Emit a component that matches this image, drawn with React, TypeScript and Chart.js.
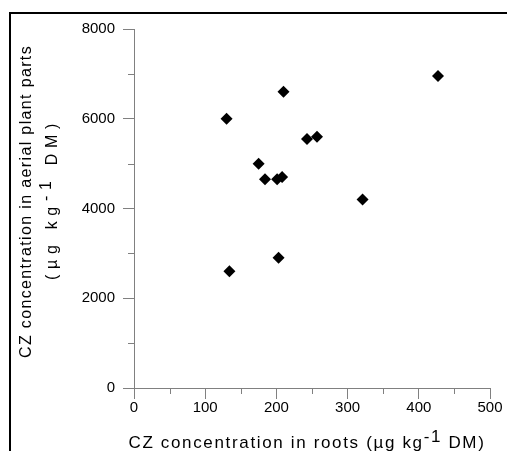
import React, { useEffect, useRef } from "react";
import { Chart, registerables } from "chart.js";

Chart.register(...registerables);

// ---- data ----
const rootsConc = [130, 134, 175, 184, 201, 203, 208, 210, 243, 257, 321, 427];
const aerialConc = [6000, 2600, 5000, 4650, 4650, 2900, 4700, 6600, 5550, 5600, 4200, 6950];

const xMajorTicks = [0, 100, 200, 300, 400, 500];
const xMinorTicks = [50, 150, 250, 350, 450];
const yMajorTicks = [0, 2000, 4000, 6000, 8000];
const yMinorTicks = [1000, 3000, 5000, 7000];

const xTitleRuns = [
  { text: "CZ concentration in roots (µg kg", sup: false },
  { text: "-1", sup: true },
  { text: " DM)", sup: false },
];
const yTitleLine1Runs = [{ text: "CZ concentration in aerial plant parts", sup: false }];
const yTitleLine2Runs = [
  { text: "(µg kg", sup: false },
  { text: "-1", sup: true },
  { text: " DM)", sup: false },
];

const FAMILY = '"Liberation Sans", Arial, Helvetica, sans-serif';
const AXIS_GRAY = "#808080";

function drawRuns(
  ctx: CanvasRenderingContext2D,
  runs: { text: string; sup: boolean }[],
  size: number,
  targetWidth: number,
  supRaise: number
) {
  ctx.font = `${size}px ${FAMILY}`;
  (ctx as any).letterSpacing = "0px";
  let natural = 0;
  let nChars = 0;
  const widths = runs.map((r) => {
    const w = ctx.measureText(r.text).width;
    natural += w;
    nChars += r.text.length;
    return w;
  });
  const sp = Math.max(0, (targetWidth - natural) / nChars);
  let x = -targetWidth / 2;
  ctx.textAlign = "left";
  ctx.textBaseline = "alphabetic";
  runs.forEach((r, i) => {
    (ctx as any).letterSpacing = `${sp}px`;
    ctx.fillText(r.text, x, r.sup ? -supRaise : 0);
    x += widths[i] + sp * r.text.length;
  });
  (ctx as any).letterSpacing = "0px";
}

const decorPlugin = {
  id: "decor",
  beforeDraw(chart: any) {
    const ctx = chart.ctx as CanvasRenderingContext2D;
    ctx.save();
    ctx.fillStyle = "#000";
    ctx.fillRect(9, 12, chart.width - 9, 2);
    ctx.fillRect(9, 12, 2, chart.height - 12);
    ctx.restore();
  },
  afterDraw(chart: any) {
    const ctx = chart.ctx as CanvasRenderingContext2D;
    const xs = chart.scales.x;
    const ys = chart.scales.y;
    ctx.save();
    // minor ticks
    ctx.strokeStyle = AXIS_GRAY;
    ctx.lineWidth = 1;
    ctx.beginPath();
    xMinorTicks.forEach((v) => {
      const px = Math.round(xs.getPixelForValue(v)) + 0.5;
      ctx.moveTo(px, xs.top);
      ctx.lineTo(px, xs.top + 6);
    });
    yMinorTicks.forEach((v) => {
      const py = Math.round(ys.getPixelForValue(v)) + 0.5;
      ctx.moveTo(ys.right, py);
      ctx.lineTo(ys.right - 6, py);
    });
    ctx.stroke();

    // axis titles
    ctx.fillStyle = "#000";
    const area = chart.chartArea;
    ctx.save();
    ctx.translate((area.left + area.right) / 2 - 5, 448);
    drawRuns(ctx, xTitleRuns, 17, 357, 6);
    ctx.restore();

    ctx.save();
    ctx.translate(31, 201.5);
    ctx.rotate(-Math.PI / 2);
    drawRuns(ctx, yTitleLine1Runs, 16, 313, 6);
    ctx.restore();

    ctx.save();
    ctx.translate(57, 199);
    ctx.rotate(-Math.PI / 2);
    drawRuns(ctx, yTitleLine2Runs, 16, 162, 6);
    ctx.restore();

    ctx.restore();
  },
};

export default function App() {
  const canvasRef = useRef<HTMLCanvasElement | null>(null);

  useEffect(() => {
    const canvas = canvasRef.current;
    if (!canvas) return;
    const points = rootsConc.map((x, i) => ({ x, y: aerialConc[i] }));
    const chart = new Chart(canvas, {
      type: "scatter",
      data: {
        datasets: [
          {
            data: points,
            pointStyle: "rectRot",
            pointRadius: 6,
            pointBorderWidth: 0,
            backgroundColor: "#000",
            borderColor: "#000",
          },
        ],
      },
      plugins: [decorPlugin],
      options: {
        animation: false,
        responsive: false,
        events: [],
        layout: { padding: { left: 0, top: 29, right: 17, bottom: 0 } },
        plugins: {
          legend: { display: false },
          tooltip: { enabled: false },
        },
        scales: {
          x: {
            type: "linear",
            position: "bottom",
            min: 0,
            max: 500,
            afterFit: (s: any) => {
              s.height = 63;
            },
            afterBuildTicks: (s: any) => {
              s.ticks = xMajorTicks.map((v) => ({ value: v }));
            },
            border: { color: AXIS_GRAY, width: 1 },
            grid: {
              drawOnChartArea: false,
              drawTicks: true,
              tickLength: 11,
              color: AXIS_GRAY,
              tickColor: AXIS_GRAY,
            },
            ticks: {
              color: "#000",
              font: { family: FAMILY, size: 15 },
              padding: 0,
              maxRotation: 0,
              autoSkip: false,
            },
          },
          y: {
            type: "linear",
            position: "left",
            min: 0,
            max: 8000,
            afterFit: (s: any) => {
              s.width = 134;
            },
            afterBuildTicks: (s: any) => {
              s.ticks = yMajorTicks.map((v) => ({ value: v }));
            },
            border: { color: AXIS_GRAY, width: 1 },
            grid: {
              drawOnChartArea: false,
              drawTicks: true,
              tickLength: 11,
              color: AXIS_GRAY,
              tickColor: AXIS_GRAY,
            },
            ticks: {
              color: "#000",
              font: { family: FAMILY, size: 15 },
              padding: 8,
              autoSkip: false,
              callback: (v: any) => String(v),
            },
          },
        },
      },
    } as any);
    return () => chart.destroy();
  }, []);

  return (
    <div style={{ position: "absolute", left: 0, top: 0, width: 507, height: 451, background: "#fff" }}>
      <canvas ref={canvasRef} width={507} height={451} style={{ display: "block", width: 507, height: 451 }} />
    </div>
  );
}
